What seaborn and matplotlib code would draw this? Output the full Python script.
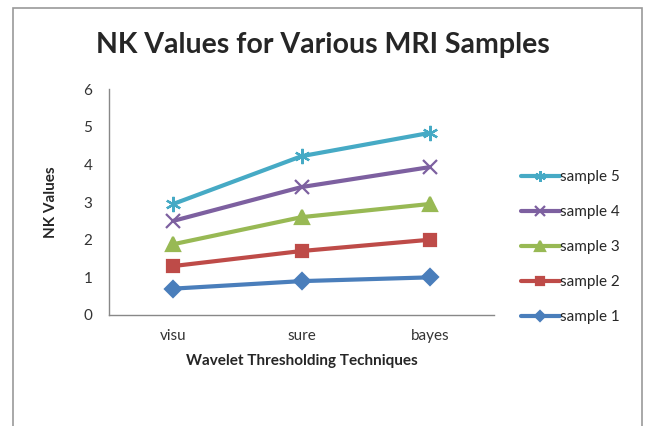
import pandas as pd
import matplotlib
matplotlib.use('Agg')
import matplotlib.pyplot as plt
from matplotlib.patches import Rectangle
import seaborn as sns

techniques = ['visu', 'sure', 'bayes']
sample_1 = [0.7, 0.9, 1.0]
sample_2 = [1.3, 1.7, 2.0]
sample_3 = [1.88, 2.6, 2.95]
sample_4 = [2.5, 3.4, 3.93]
sample_5 = [2.95, 4.22, 4.84]
sample_names = ['sample 1', 'sample 2', 'sample 3', 'sample 4', 'sample 5']

colors = ['#4A7EBB', '#BE4B48', '#98B954', '#7D60A0', '#46AAC5']
markers = ['D', 's', '^', 'x', (6, 2, 0)]
msizes = [8, 9, 10, 10, 11]

sns.set_style('white')
plt.rcParams['font.family'] = ['Lato', 'DejaVu Sans']

fig = plt.figure(figsize=(6.45, 4.26), dpi=100)
ax = fig.add_axes([0.169, 0.2606, 0.597, 0.53])

for name, vals, c, m, ms in zip(sample_names, [sample_1, sample_2, sample_3, sample_4, sample_5],
                                colors, markers, msizes):
    d = pd.DataFrame({'technique': techniques, 'value': vals})
    sns.lineplot(data=d, x='technique', y='value', color=c, marker=m, markersize=ms,
                 markeredgecolor=c, markeredgewidth=1.6, linewidth=3, label=name,
                 ax=ax, sort=False)

ax.set_ylim(0, 6)
ax.set_xlim(-0.5, 2.5)
ax.set_yticks(range(7))
ax.tick_params(axis='y', length=4, color='#888888', labelsize=11, labelcolor='#333333', pad=8)
ax.tick_params(axis='x', length=0, labelsize=11, labelcolor='#333333', pad=10)
for s in ['top', 'right']:
    ax.spines[s].set_visible(False)
for s in ['left', 'bottom']:
    ax.spines[s].set_color('#888888')
    ax.spines[s].set_linewidth(1)

ax.set_xlabel('Wavelet Thresholding Techniques', fontsize=11, fontweight='bold', labelpad=8)
ax.set_ylabel('NK Values', fontsize=11, fontweight='bold', labelpad=18)
fig.suptitle('NK Values for Various MRI Samples', fontsize=20.5, fontweight='bold', y=0.925)

handles, labels = ax.get_legend_handles_labels()
ax.legend(handles[::-1], labels[::-1], loc='center left', bbox_to_anchor=(1.055, 0.3),
          frameon=False, fontsize=11, labelspacing=1.38, handlelength=2.5,
          handletextpad=0.05, markerscale=0.7, borderaxespad=0)

fig.patches.append(Rectangle((13 / 645, -0.05), 629 / 645, 1.05 - 8 / 426,
                             transform=fig.transFigure, fill=False,
                             edgecolor='#999999', linewidth=1.2))

fig.savefig('out.png', dpi=100)
